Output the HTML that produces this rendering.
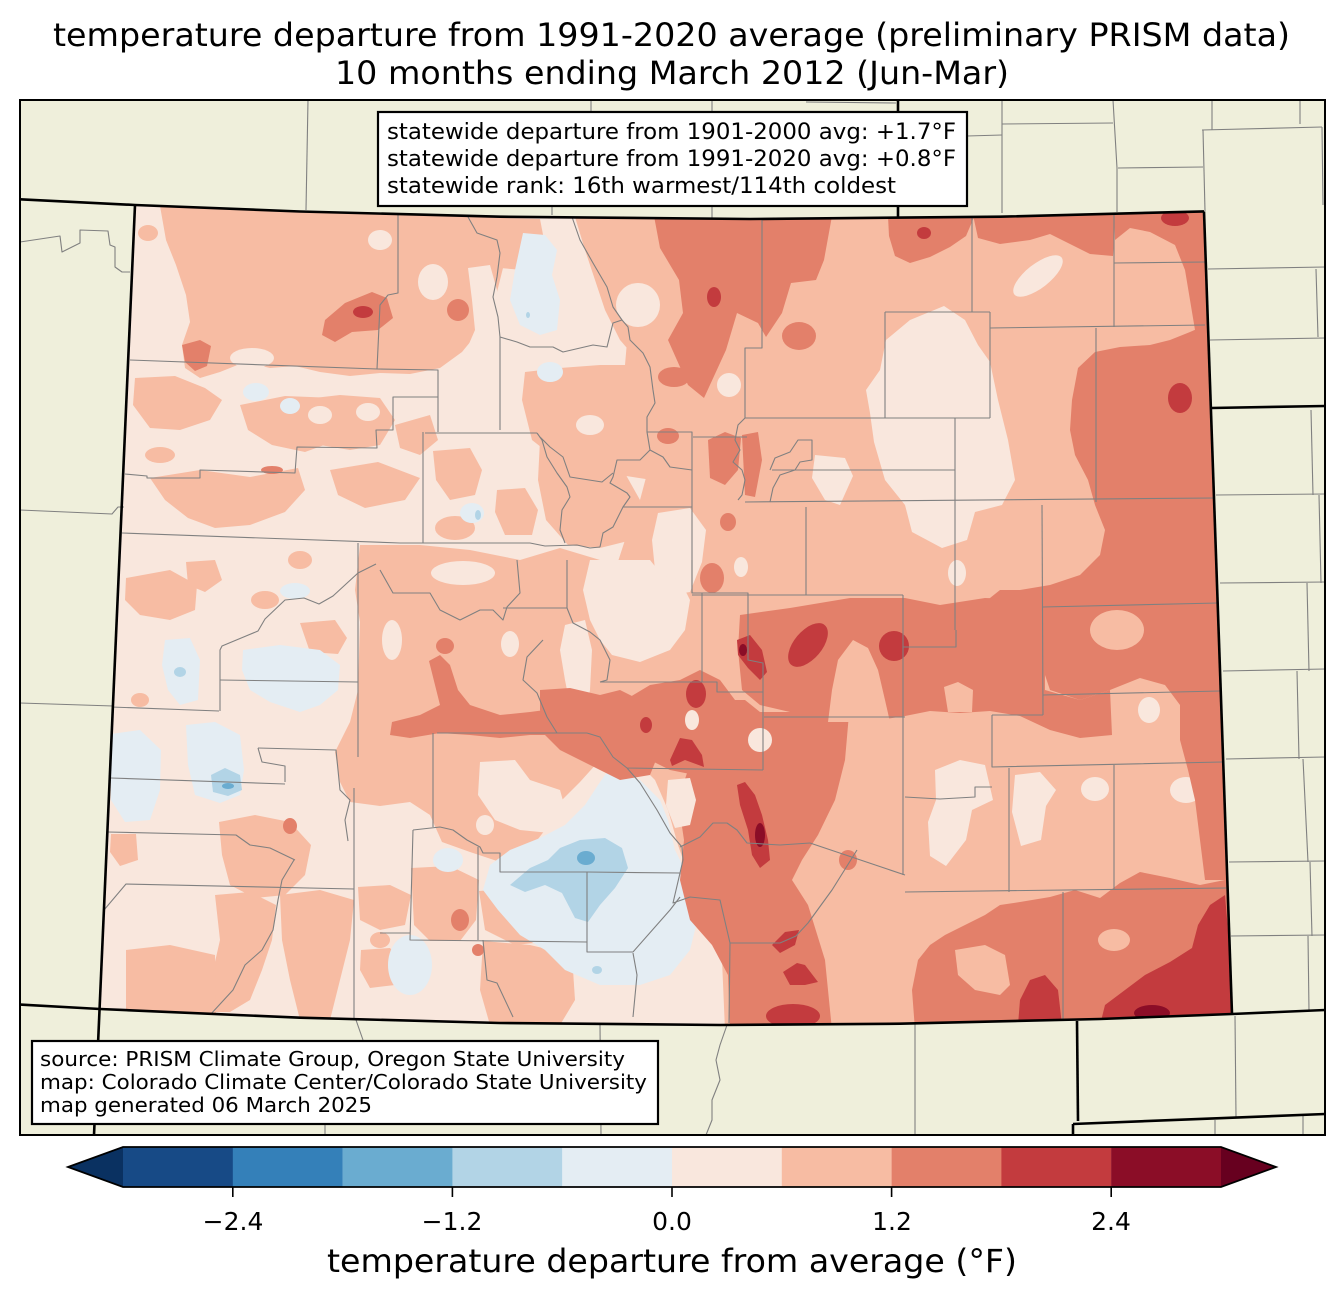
<!DOCTYPE html>
<html><head><meta charset="utf-8"><style>
html,body{margin:0;padding:0;background:#fff;}
svg{display:block;font-family:"DejaVu Sans","Liberation Sans",sans-serif;}
.s{fill:#f7bca3}.d{fill:#e3806a}.r{fill:#c33b3e}.rr{fill:#8b0d27}.c0{fill:#f9e7dd}
.b1{fill:#e4edf3}.b2{fill:#b2d4e6}.b3{fill:#6aacd0}
.g{fill:none;stroke:#808080;stroke-width:1.1;stroke-linejoin:round}
.k{fill:none;stroke:#000;stroke-width:2.6;stroke-linejoin:round}
</style></head><body>
<svg width="1344" height="1299" viewBox="0 0 1344 1299" xmlns="http://www.w3.org/2000/svg">
<defs>
<clipPath id="co"><polygon points="135,205 300,211.5 500,216.7 750,219 1000,216.7 1204,211.4 1232,1014 1100,1019 900,1023.7 720,1025 500,1023 300,1017.7 100,1009"/></clipPath>
<clipPath id="fr"><rect x="20" y="100" width="1305" height="1035"/></clipPath>
</defs>
<rect width="1344" height="1299" fill="#fff"/>
<text x="53" y="46" font-size="32" textLength="1237" lengthAdjust="spacingAndGlyphs">temperature departure from 1991-2020 average (preliminary PRISM data)</text>
<text x="335" y="84" font-size="32" textLength="674" lengthAdjust="spacingAndGlyphs">10 months ending March 2012 (Jun-Mar)</text>

<rect x="20" y="100" width="1305" height="1035" fill="#efefdb"/>
<g clip-path="url(#co)">
<polygon class="c0" points="135,205 300,211.5 500,216.7 750,219 1000,216.7 1204,211.4 1232,1014 1100,1019 900,1023.7 720,1025 500,1023 300,1017.7 100,1009"/>
<!-- salmon -->
<polygon class="s" points="640,210 1215,205 1240,1030 725,1030 722,960 705,915 690,880 678,845 668,810 655,780 630,755 605,720 600,690 605,655 618,620 612,580 625,540 640,500 648,470 632,440 625,420 625,395 625,365 628,330 638,300 632,260 640,235"/>
<polygon class="s" points="160,206 505,214 505,260 495,300 480,330 462,352 440,368 410,374 380,373 350,376 320,372 295,366 270,368 245,362 220,372 200,378 185,368 182,345 190,322 186,295 176,265 166,240"/>
<ellipse class="s" cx="148" cy="233" rx="10" ry="8"/>
<polygon class="s" points="135,378 175,376 205,388 222,400 210,420 180,430 150,428 133,405"/>
<polygon class="s" points="240,405 285,396 335,398 358,416 338,440 305,452 272,445 248,430"/>
<polygon class="s" points="297,400 340,395 380,398 395,420 380,445 350,450 320,445 300,425"/>
<polygon class="s" points="150,478 200,470 250,477 298,468 305,490 285,512 250,525 215,528 188,518 165,500"/>
<polygon class="s" points="330,470 378,462 420,478 405,500 365,508 338,495"/>
<polygon class="s" points="395,425 430,415 438,440 420,455 400,448"/>
<polygon class="s" points="575,217 660,217 663,300 655,360 640,363 620,340 605,310 595,280 585,250"/>
<polygon class="s" points="468,217 540,219 545,245 523,270 500,268 480,250"/>
<polygon class="s" points="525,372 560,368 600,365 640,365 652,380 652,480 600,472 560,462 532,440 522,400"/>
<polygon class="s" points="433,451 470,448 482,470 475,495 450,500 436,480"/>
<ellipse class="s" cx="455" cy="528" rx="20" ry="12"/>
<polygon class="s" points="497,490 525,488 538,510 532,535 505,535 495,512"/>
<polygon class="s" points="540,440 572,428 602,438 622,468 640,500 632,540 600,548 568,545 546,520 538,480"/>
<polygon class="s" points="360,545 420,545 470,550 520,560 560,548 600,560 615,590 605,620 610,660 600,700 612,740 598,762 580,782 560,802 545,830 528,852 500,862 470,852 442,842 430,815 410,802 380,806 350,802 340,782 335,752 350,722 358,690 360,622 355,590"/>
<polygon class="s" points="126,578 170,570 197,585 195,610 170,620 140,615 125,600"/>
<polygon class="s" points="186,562 215,560 222,580 205,592 188,585"/>
<polygon class="s" points="300,623 335,620 347,638 338,654 310,652"/>
<polygon class="s" points="219,822 255,815 290,822 311,845 305,875 285,895 255,898 230,885 222,855"/>
<polygon class="s" points="215,895 250,892 276,905 272,940 262,970 250,1000 230,1012 208,1012 212,975 220,940"/>
<polygon class="s" points="126,950 170,945 215,955 216,1015 126,1015"/>
<polygon class="s" points="280,895 320,890 354,900 350,940 340,980 330,1020 300,1020 290,980 282,940"/>
<polygon class="s" points="111,834 136,834 138,860 120,866 110,852"/>
<polygon class="s" points="358,887 390,885 411,895 405,925 380,930 360,920"/>
<polygon class="s" points="411,868 450,866 479,880 476,920 460,941 430,941 414,925"/>
<polygon class="s" points="479,891 520,888 554,900 552,941 515,945 485,930"/>
<polygon class="s" points="483,941 530,945 572,955 575,1000 560,1025 490,1025 480,990"/>
<polygon class="s" points="361,950 390,948 405,965 395,985 370,988 360,970"/>
<ellipse class="s" cx="160" cy="455" rx="15" ry="8"/>
<ellipse class="s" cx="265" cy="600" rx="14" ry="9"/>
<ellipse class="s" cx="140" cy="700" rx="9" ry="7"/>
<ellipse class="s" cx="300" cy="560" rx="12" ry="9"/>
<ellipse class="s" cx="380" cy="940" rx="10" ry="8"/>
<!-- light holes -->
<ellipse class="c0" cx="380" cy="240" rx="12" ry="10"/>
<ellipse class="c0" cx="433" cy="282" rx="15" ry="18"/>
<polygon class="c0" points="468,268 490,265 497,290 500,350 497,420 470,430 455,395 462,360 475,330 472,300"/>
<ellipse class="c0" cx="252" cy="358" rx="22" ry="10"/>
<ellipse class="c0" cx="320" cy="415" rx="12" ry="9"/>
<ellipse class="c0" cx="368" cy="412" rx="12" ry="9"/>
<ellipse class="c0" cx="638" cy="305" rx="22" ry="22"/>
<ellipse class="c0" cx="590" cy="425" rx="14" ry="10"/>
<polygon class="c0" points="944,306 965,320 978,345 990,362 998,400 1008,440 1015,480 1002,505 975,512 967,540 942,548 912,532 905,505 885,480 874,442 870,413 866,390 880,370 886,340 910,320"/>
<ellipse class="c0" cx="1038" cy="276" rx="30" ry="12" transform="rotate(-38 1038 276)"/>
<circle class="c0" cx="729" cy="385" r="12"/>
<polygon class="c0" points="658,513 690,508 706,530 702,562 690,592 665,596 655,570 652,540"/>
<polygon class="c0" points="590,560 650,560 662,575 680,580 690,600 685,630 670,650 640,662 612,655 600,640 590,620 583,590"/>
<polygon class="c0" points="815,455 845,458 853,476 840,505 825,500 812,478"/>
<ellipse class="c0" cx="741" cy="567" rx="7" ry="10"/>
<ellipse class="c0" cx="957" cy="573" rx="9" ry="13"/>
<ellipse class="c0" cx="1194" cy="543" rx="6" ry="6"/>
<polygon class="c0" points="935,770 960,760 985,765 993,800 972,810 966,840 946,866 930,856 928,822 936,800"/>
<polygon class="c0" points="1015,775 1040,772 1056,790 1046,806 1041,840 1021,846 1012,812"/>
<ellipse class="c0" cx="1095" cy="789" rx="14" ry="12"/>
<ellipse class="c0" cx="1186" cy="790" rx="16" ry="13"/>
<ellipse class="c0" cx="463" cy="573" rx="32" ry="12"/>
<ellipse class="c0" cx="392" cy="640" rx="10" ry="20"/>
<ellipse class="c0" cx="510" cy="644" rx="9" ry="13"/>
<polygon class="c0" points="565,625 585,620 592,650 590,690 585,718 572,715 565,680 560,650"/>
<polygon class="c0" points="480,762 515,760 530,780 560,790 567,815 550,833 520,830 495,820 478,795"/>
<ellipse class="c0" cx="485" cy="825" rx="9" ry="10"/>
<!-- blues -->
<polygon class="b1" points="607,772 640,780 660,800 668,820 675,850 690,880 700,910 690,950 670,975 640,985 600,985 565,970 545,950 520,935 498,910 483,890 490,865 510,850 540,838 565,825 585,805 598,785"/>
<polygon class="b2" points="510,885 530,868 548,860 560,848 580,840 605,838 622,848 628,868 615,888 600,905 588,922 575,918 562,893 545,885 525,892"/>
<ellipse class="b3" cx="586" cy="858" rx="9" ry="7"/>
<ellipse class="b2" cx="597" cy="970" rx="5" ry="4"/>
<polygon class="b1" points="523,233 545,235 557,250 552,275 560,300 557,330 540,335 520,325 510,300 515,270"/>
<ellipse class="b2" cx="528" cy="315" rx="2" ry="3"/>
<ellipse class="b1" cx="550" cy="372" rx="13" ry="10"/>
<ellipse class="b1" cx="256" cy="392" rx="13" ry="9"/>
<ellipse class="b1" cx="290" cy="406" rx="10" ry="8"/>
<ellipse class="b1" cx="472" cy="513" rx="12" ry="10"/>
<ellipse class="b2" cx="478" cy="515" rx="3" ry="5"/>
<polygon class="b1" points="165,640 190,638 200,660 198,700 180,705 168,690 162,665"/>
<ellipse class="b2" cx="180" cy="672" rx="6" ry="5"/>
<polygon class="b1" points="243,650 280,645 320,650 340,665 338,690 320,705 300,712 270,702 250,690 242,670"/>
<polygon class="b1" points="186,725 215,722 240,735 244,770 240,795 220,803 195,795 188,765"/>
<polygon class="b2" points="211,775 225,768 240,775 242,790 228,796 213,792"/>
<ellipse class="b3" cx="228" cy="786" rx="6" ry="3"/>
<polygon class="b1" points="111,734 140,730 161,750 160,790 150,820 125,822 111,800"/>
<ellipse class="b1" cx="295" cy="591" rx="15" ry="8"/>
<ellipse class="b1" cx="448" cy="860" rx="15" ry="12"/>
<ellipse class="b1" cx="410" cy="965" rx="22" ry="30"/>
<!-- dark -->
<polygon class="d" points="654,216 832,216 824,260 816,280 791,283 782,313 766,337 758,323 737,313 726,350 704,398 688,385 668,340 683,313 679,280 660,248"/>
<ellipse class="d" cx="799" cy="336" rx="17" ry="14"/>
<polygon class="d" points="888,216 975,215 966,236 950,247 930,257 910,263 895,256 889,236"/>
<polygon class="d" points="973,215 1116,212 1113,256 1090,254 1070,244 1050,234 1030,240 1000,244 978,238"/>
<polygon class="d" points="1114,211 1206,210 1213,330 1195,330 1190,300 1185,270 1175,245 1150,232 1130,228 1115,240"/>
<polygon class="d" points="1213,322 1190,332 1170,340 1150,345 1120,347 1095,352 1078,368 1072,400 1070,430 1075,455 1088,480 1095,505 1105,530 1100,555 1080,575 1050,585 1020,590 1000,590 985,602 1000,620 1020,640 1040,660 1050,690 1080,700 1110,690 1140,678 1165,685 1180,705 1180,740 1188,770 1195,800 1200,840 1205,880 1235,880 1230,322"/>
<polygon class="d" points="740,615 790,608 850,598 905,598 940,605 985,598 1045,600 1045,690 1080,700 1110,690 1112,735 1080,738 1050,730 1020,716 990,711 960,713 930,711 905,716 880,720 850,720 820,715 790,712 760,705 742,690 738,650"/>
<polygon class="d" points="720,700 745,700 760,712 800,712 849,714 845,760 835,800 818,835 802,860 792,880 808,905 825,960 832,1030 730,1030 728,975 712,945 690,920 680,880 684,840 678,800 688,770 700,745"/>
<polygon class="d" points="915,1030 1236,1030 1235,878 1200,885 1170,878 1140,872 1120,883 1100,898 1075,890 1050,897 1020,902 1000,905 985,915 965,925 945,935 930,945 918,960 912,990"/>
<ellipse class="d" cx="848" cy="860" rx="9" ry="10"/>
<polygon class="d" points="708,440 725,432 741,438 738,470 725,485 710,478"/>
<polygon class="d" points="742,435 758,432 762,460 755,497 745,495"/>
<ellipse class="d" cx="728" cy="522" rx="8" ry="9"/>
<ellipse class="d" cx="712" cy="578" rx="12" ry="15"/>
<ellipse class="d" cx="674" cy="377" rx="16" ry="10"/>
<ellipse class="d" cx="668" cy="436" rx="11" ry="8"/>
<polygon class="d" points="429,661 440,655 450,665 458,690 470,705 500,715 530,712 560,708 590,712 610,720 612,735 590,740 560,735 530,735 500,738 470,735 440,733 410,738 390,735 392,722 420,715 440,705 435,685"/>
<ellipse class="d" cx="445" cy="646" rx="9" ry="8"/>
<ellipse class="d" cx="557" cy="700" rx="13" ry="7"/>
<polygon class="d" points="540,690 570,688 600,695 620,690 640,700 655,720 660,750 650,775 620,780 600,770 580,760 560,750 545,735 540,710"/>
<polygon class="d" points="625,700 650,685 680,680 700,670 720,680 735,700 745,720 760,740 765,770 740,775 715,770 695,775 670,770 650,760 630,740"/>
<polygon class="d" points="322,335 325,320 345,303 372,292 387,298 393,318 378,330 352,332 335,342"/>
<polygon class="d" points="182,345 200,340 211,346 207,366 195,371 185,362"/>
<ellipse class="d" cx="458" cy="310" rx="11" ry="11"/>
<ellipse class="d" cx="272" cy="470" rx="11" ry="4"/>
<ellipse class="d" cx="290" cy="826" rx="7" ry="8"/>
<ellipse class="d" cx="460" cy="920" rx="9" ry="11"/>
<ellipse class="d" cx="478" cy="950" rx="6" ry="6"/>
<!-- salmon/light holes in dark -->
<polygon class="s" points="853,640 868,648 878,670 885,700 890,722 828,722 832,690 838,660"/>
<polygon class="s" points="944,687 958,682 973,690 972,712 948,712"/>
<ellipse class="s" cx="1117" cy="630" rx="27" ry="20"/>
<polygon class="s" points="955,950 985,945 1005,955 1010,985 1000,995 975,990 958,975"/>
<ellipse class="s" cx="1114" cy="940" rx="16" ry="11"/>
<ellipse class="c0" cx="1149" cy="710" rx="11" ry="13"/>
<circle class="c0" cx="760" cy="740" r="12"/>
<ellipse class="c0" cx="692" cy="720" rx="7" ry="10"/>
<polygon class="c0" points="668,780 690,778 696,800 690,825 675,828 666,805"/>
<!-- red -->
<ellipse class="r" cx="714" cy="297" rx="7" ry="10"/>
<ellipse class="r" cx="924" cy="233" rx="7" ry="6"/>
<ellipse class="r" cx="1175" cy="218" rx="14" ry="8"/>
<ellipse class="r" cx="1180" cy="398" rx="12" ry="15"/>
<ellipse class="r" cx="363" cy="312" rx="10" ry="6"/>
<ellipse class="r" cx="808" cy="645" rx="14" ry="26" transform="rotate(40 808 645)"/>
<circle class="r" cx="894" cy="646" r="15"/>
<polygon class="r" points="737,640 750,635 762,650 767,672 760,680 748,668 738,655"/>
<ellipse class="rr" cx="743" cy="650" rx="4" ry="6"/>
<ellipse class="r" cx="646" cy="725" rx="6" ry="8"/>
<polygon class="r" points="670,760 680,738 692,740 702,755 704,767 685,760 672,766"/>
<ellipse class="r" cx="696" cy="694" rx="10" ry="14"/>
<polygon class="r" points="737,785 745,782 755,795 762,815 768,840 770,860 760,868 752,855 748,830 740,805"/>
<ellipse class="rr" cx="760" cy="835" rx="5" ry="12"/>
<polygon class="r" points="772,945 785,932 799,930 795,945 780,953"/>
<polygon class="r" points="783,972 797,963 805,965 818,982 805,985 790,985"/>
<ellipse class="r" cx="793" cy="1016" rx="27" ry="12"/>
<polygon class="r" points="1020,1000 1030,980 1045,975 1058,990 1062,1025 1018,1025"/>
<polygon class="r" points="1225,895 1236,1025 1100,1025 1105,1005 1125,990 1145,975 1170,962 1192,948 1198,925 1210,905"/>
<ellipse class="rr" cx="1152" cy="1013" rx="18" ry="8"/>
<!-- CO county lines -->
<g class="g">
<polyline points="398,213 398,293 388,295 380,305 377,369"/>
<polyline points="130,360 377,369 438,370 438,432"/>
<polyline points="125,474 147,476 147,478 200,478 200,470 295,473 297,447 377,448 376,430 393,430 393,397 438,397"/>
<polyline points="122,533 400,543 530,543 545,546 577,545 590,548 600,547"/>
<polyline points="376,564 358,573 333,596 319,604 304,598 285,600 265,619 258,631 222,646 220,650 220,711"/>
<polyline points="358,543 358,757"/>
<polyline points="220,680 358,682"/>
<polyline points="111,707 219,711"/>
<polyline points="258,748 336,750 340,790 350,800 345,820 348,841"/>
<polyline points="258,748 262,762 285,766 285,782"/>
<polyline points="111,778 285,784"/>
<polyline points="108,832 236,835 250,845 270,848 295,860"/>
<polyline points="104,910 126,884 354,889"/>
<polyline points="354,788 354,1020"/>
<polyline points="294,860 282,880 278,900 273,930 262,950 245,965 233,990 210,1015"/>
<polyline points="380,933 410,933"/>
<polyline points="413,830 440,827 453,830 467,840 480,847 483,853 500,853 500,872 587,872"/>
<polyline points="413,830 410,940 587,942"/>
<polyline points="478,847 478,940"/>
<polyline points="483,940 487,980 497,983 513,1017"/>
<polyline points="587,872 680,873"/>
<polyline points="587,872 587,952 633,952"/>
<polyline points="633,952 670,910 680,897"/>
<polyline points="633,953 637,975 633,1017"/>
<polyline points="433,733 433,827"/>
<polyline points="437,733 587,733"/>
<polyline points="587,733 600,737 613,757 627,768 763,770"/>
<polyline points="627,768 640,783 657,810 670,833 682,847 683,860 680,873 673,903 690,897 720,900 730,943 780,943"/>
<polyline points="680,847 700,837 713,823 727,823 737,830 747,843 780,845"/>
<polyline points="557,733 547,717 537,693 523,680 527,657 543,640"/>
<polyline points="380,570 393,593 430,593 440,610 460,620 480,610 493,610 503,620 507,607 520,593 517,560"/>
<polyline points="503,608 567,608"/>
<polyline points="567,560 567,608 573,623 590,632 600,640 610,660 607,680 600,682"/>
<polyline points="600,682 717,682 717,692 763,692"/>
<polyline points="702,593 702,682"/>
<polyline points="692,560 692,593 748,593 748,660 763,663 763,770"/>
<polyline points="423,432 423,543"/>
<polyline points="425,433 537,433"/>
<polyline points="537,433 542,440 547,457 557,473 567,487 570,497 562,510 560,530 565,543"/>
<polyline points="540,437 550,447 563,457 570,477 602,482 613,473"/>
<polyline points="468,217 477,233 497,240 500,253 497,277 493,297 498,317 500,337 500,430"/>
<polyline points="500,337 517,342 530,347 553,347 563,352 593,345 607,347 613,323 622,320 613,307 607,287 593,263 580,240 572,217"/>
<polyline points="622,320 628,327 630,340 643,353 650,367 653,390 655,403 647,417 647,432 650,450 640,460 617,460 613,477 610,483 627,493 630,497 623,507 613,527 603,533 600,547"/>
<polyline points="647,432 692,432 692,593"/>
<polyline points="650,450 663,457 670,467 692,470"/>
<polyline points="623,507 692,507"/>
<polyline points="693,437 747,437"/>
<polyline points="762,218 762,348 745,348 745,418"/>
<polyline points="745,418 990,418"/>
<polyline points="990,312 990,418"/>
<polyline points="885,312 990,312"/>
<polyline points="885,312 885,418"/>
<polyline points="972,218 972,312"/>
<polyline points="990,328 1205,325"/>
<polyline points="1114,213 1114,327"/>
<polyline points="1114,263 1205,262"/>
<polyline points="1096,328 1096,502"/>
<polyline points="745,502 1214,498"/>
<polyline points="955,418 955,630"/>
<polyline points="772,470 955,470"/>
<polyline points="692,595 903,595"/>
<polyline points="806,507 806,595"/>
<polyline points="903,595 903,875"/>
<polyline points="903,647 956,647 956,630"/>
<polyline points="1042,505 1043,715"/>
<polyline points="1043,607 1218,603"/>
<polyline points="1043,695 1220,691"/>
<polyline points="764,717 905,717"/>
<polyline points="992,715 1043,715"/>
<polyline points="992,715 992,767 1222,762"/>
<polyline points="1009,768 1009,892"/>
<polyline points="1114,765 1114,890"/>
<polyline points="905,892 1226,888"/>
<polyline points="1063,892 1063,1020"/>
<polyline points="905,797 940,799 975,797 975,787 992,787"/>
<polyline points="810,843 905,875"/>
<polyline points="780,845 810,843"/>
<polyline points="857,850 832,890 808,923 796,936 780,943"/>
<polyline points="730,943 729,1023"/>
<polyline points="745,418 738,425 735,440 740,450 733,462 742,470 745,480 742,495 738,500"/>
<polyline points="770,502 773,488 780,475 795,470 800,462 812,460 812,440 798,440 790,452 775,458 770,470"/>
</g>
</g>
<!-- outside lines -->
<g class="g" clip-path="url(#fr)">
<polyline points="20,242 60,236 62,252 80,243 80,230 108,231 110,245 115,247 115,267 122,272 130,272"/>
<polyline points="20,510 112,514 118,507 124,507"/>
<polyline points="20,703 113,706"/>
<polyline points="308,100 306,210"/>
<polyline points="591,100 591,112"/>
<polyline points="552,206 552,215"/>
<polyline points="712,100 712,218"/>
<polyline points="806,102 896,103"/>
<polyline points="967,136 1002,135"/>
<polyline points="1002,100 1002,213"/>
<polyline points="1002,124 1113,123"/>
<polyline points="1113,100 1117,168 1117,212"/>
<polyline points="1118,168 1203,167"/>
<polyline points="1212,100 1212,130"/>
<polyline points="1202,130 1322,127"/>
<polyline points="1203,130 1205,211"/>
<polyline points="1300,100 1300,124"/>
<polyline points="1322,127 1323,205"/>
<polyline points="1208,269 1325,267"/>
<polyline points="1210,340 1325,338"/>
<polyline points="1316,269 1318,337"/>
<polyline points="1216,495 1325,494"/>
<polyline points="1220,583 1325,582"/>
<polyline points="1223,671 1325,669"/>
<polyline points="1226,759 1325,757"/>
<polyline points="1229,862 1325,861"/>
<polyline points="1231,936 1325,935"/>
<polyline points="1311,410 1313,495"/>
<polyline points="1319,495 1321,583"/>
<polyline points="1307,583 1309,671"/>
<polyline points="1297,671 1299,759"/>
<polyline points="1303,759 1308,862"/>
<polyline points="1310,862 1312,936"/>
<polyline points="1308,936 1309,1011"/>
<polyline points="1235,1016 1236,1117"/>
<polyline points="1215,1120 1215,1135"/>
<polyline points="1303,1116 1303,1135"/>
<polyline points="600,1025 601,1135"/>
<polyline points="727,1025 720,1045 716,1060 720,1080 712,1100 712,1120 706,1135"/>
<polyline points="915,1024 915,1135"/>
<polyline points="356,1020 363,1040"/>
<polyline points="325,1120 325,1135"/>
</g>
<g class="k" clip-path="url(#fr)">
<polyline points="20,199.3 135,205 300,211.5 500,216.7 750,219 1000,216.7 1204,211.4"/>
<polyline points="1204,211.4 1232,1014"/>
<polyline points="1211,408 1325,406"/>
<polyline points="20,1004.6 100,1009 300,1017.7 500,1023 720,1025 900,1023.7 1100,1019 1232,1014 1325,1010"/>
<polyline points="135,205 94,1135"/>
<polyline points="898,100 898,217"/>
<polyline points="1077,1021 1078,1121"/>
<polyline points="1073,1124 1325,1114"/>
<polyline points="1073,1124 1073,1135"/>
</g>
<rect x="20" y="100" width="1305" height="1035" fill="none" stroke="#000" stroke-width="2"/>

<rect x="378" y="112" width="589" height="94" fill="#fff" stroke="#000" stroke-width="2.2"/>
<text x="387" y="139" font-size="22" textLength="569" lengthAdjust="spacingAndGlyphs">statewide departure from 1901-2000 avg: +1.7°F</text>
<text x="387" y="166" font-size="22" textLength="569" lengthAdjust="spacingAndGlyphs">statewide departure from 1991-2020 avg: +0.8°F</text>
<text x="387" y="193" font-size="22" textLength="509" lengthAdjust="spacingAndGlyphs">statewide rank: 16th warmest/114th coldest</text>

<rect x="32" y="1041" width="626" height="83" fill="#fff" stroke="#000" stroke-width="2.2"/>
<text x="40" y="1066" font-size="20" textLength="585" lengthAdjust="spacingAndGlyphs">source: PRISM Climate Group, Oregon State University</text>
<text x="40" y="1089" font-size="20" textLength="607" lengthAdjust="spacingAndGlyphs">map: Colorado Climate Center/Colorado State University</text>
<text x="40" y="1112" font-size="20" textLength="332" lengthAdjust="spacingAndGlyphs">map generated 06 March 2025</text>

<!-- colorbar -->
<polygon points="68,1167 123,1147 123,1187" fill="#0a3161"/>
<rect x="123" y="1147" width="110" height="40" fill="#174a86"/>
<rect x="232.8" y="1147" width="110" height="40" fill="#3480b9"/>
<rect x="342.6" y="1147" width="110" height="40" fill="#6aacd0"/>
<rect x="452.4" y="1147" width="110" height="40" fill="#b2d4e6"/>
<rect x="562.2" y="1147" width="110" height="40" fill="#e4edf3"/>
<rect x="672" y="1147" width="110" height="40" fill="#f9e7dd"/>
<rect x="781.8" y="1147" width="110" height="40" fill="#f7bca3"/>
<rect x="891.6" y="1147" width="110" height="40" fill="#e3806a"/>
<rect x="1001.4" y="1147" width="110" height="40" fill="#c33b3e"/>
<rect x="1111.2" y="1147" width="109.8" height="40" fill="#8b0d27"/>
<polygon points="1221,1147 1276,1167 1221,1187" fill="#67001f"/>
<polygon points="68,1167 123,1147 1221,1147 1276,1167 1221,1187 123,1187" fill="none" stroke="#000" stroke-width="1.8"/>
<g stroke="#000" stroke-width="1.6">
<line x1="232.8" y1="1187" x2="232.8" y2="1197"/>
<line x1="452.4" y1="1187" x2="452.4" y2="1197"/>
<line x1="672" y1="1187" x2="672" y2="1197"/>
<line x1="891.6" y1="1187" x2="891.6" y2="1197"/>
<line x1="1111.2" y1="1187" x2="1111.2" y2="1197"/>
</g>
<g font-size="25" text-anchor="middle">
<text x="233" y="1230">−2.4</text>
<text x="452" y="1230">−1.2</text>
<text x="672" y="1230">0.0</text>
<text x="892" y="1230">1.2</text>
<text x="1111" y="1230">2.4</text>
</g>
<text x="327" y="1272" font-size="32" textLength="690" lengthAdjust="spacingAndGlyphs">temperature departure from average (°F)</text>
</svg>
</body></html>
